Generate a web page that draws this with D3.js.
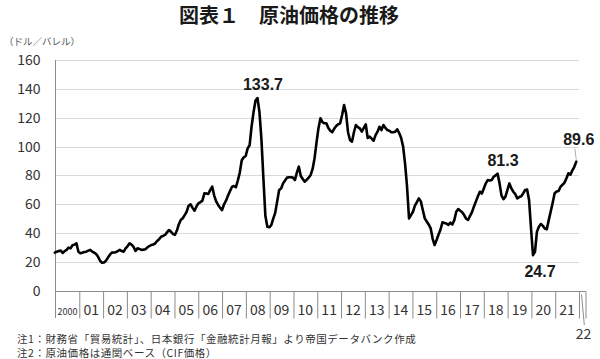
<!DOCTYPE html>
<html><head><meta charset="utf-8">
<script src="https://cdn.jsdelivr.net/npm/d3@7"></script>
<style>
html,body{margin:0;padding:0;background:#fff;}
svg{display:block;font-family:"Noto Sans CJK JP","Noto Sans",sans-serif;}
</style></head><body>
<svg id="c" width="600" height="359"></svg>
<script>
const title = "図表１　原油価格の推移";
const unitLabel = "（ドル／バレル）";
const yearLabels = ["2000","01","02","03","04","05","06","07","08","09","10","11","12","13","14","15","16","17","18","19","20","21"];
const extraYearLabel = "22";
const yTicks = [0,20,40,60,80,100,120,140,160];
// monthly crude oil price (USD/bbl), Jan 2000 - Feb 2022
const prices = [
 26.4,27.1,27.6,27.8,26.2,27.5,28.3,29.9,29.4,31.5,32.0,32.9,
 27.0,26.0,26.4,26.8,27.1,27.8,28.3,27.2,26.4,25.5,23.5,20.8,
 19.4,19.6,20.8,23.0,25.0,26.4,26.5,26.7,27.5,28.3,27.5,27.1,
 29.4,31.0,32.9,32.0,30.5,27.6,29.4,29.0,28.3,28.5,28.8,30.0,
 31.0,31.7,32.0,32.9,34.5,35.7,37.5,38.0,38.7,40.5,42.1,41.0,
 39.5,38.7,41.6,46.0,49.1,50.3,52.5,54.8,59.0,60.0,57.5,55.5,
 58.5,60.7,61.5,62.5,67.6,67.5,67.1,70.0,72.2,66.0,62.0,59.5,
 57.5,56.0,60.0,62.5,66.0,69.0,72.0,72.7,71.8,76.5,82.0,90.5,
 92.6,93.5,98.8,101.0,114.0,124.0,132.0,133.7,124.0,105.0,78.0,52.0,
 44.4,44.0,45.5,50.0,54.0,62.0,69.9,71.0,74.5,76.5,78.5,78.7,
 78.7,78.5,76.8,82.0,86.1,79.6,77.5,75.7,77.0,78.5,80.3,84.5,
 92.0,103.0,113.0,119.7,117.0,116.2,116.2,113.0,111.0,110.0,112.5,114.3,
 115.5,116.2,122.0,128.9,123.1,110.0,104.6,103.4,110.0,115.0,113.5,112.7,
 110.4,113.0,115.5,106.0,106.9,105.5,104.1,108.0,110.4,113.8,111.5,115.0,
 113.0,111.5,111.0,110.0,110.0,110.4,112.0,109.4,106.0,100.0,88.0,72.0,
 50.2,52.5,54.8,59.0,61.5,64.1,62.0,56.0,50.2,48.0,46.0,43.3,
 36.0,31.7,35.2,39.0,42.5,47.5,47.0,46.6,45.6,47.2,46.0,49.0,
 54.8,56.7,55.5,54.5,52.5,50.0,49.1,51.9,54.5,58.5,62.0,65.5,
 68.7,67.4,71.0,74.5,76.8,76.5,76.8,79.1,80.0,81.3,74.5,66.0,
 63.5,65.3,70.0,74.5,71.0,68.7,67.0,64.1,65.0,65.6,67.5,69.9,
 70.2,63.0,43.0,24.7,27.0,41.0,44.4,46.3,45.0,43.2,42.6,49.0,
 55.0,61.0,67.6,68.8,69.2,72.2,73.5,75.0,78.0,81.5,80.5,83.5,
 86.0,89.6
];
const annotationIndex = [103,225,243,265];
const annotationText = ["133.7","81.3","24.7","89.6"];
const notes = ["注1：財務省「貿易統計」、日本銀行「金融統計月報」より帝国データバンク作成","注2：原油価格は通関ベース（CIF価格）"];

const svg = d3.select("#c");
const x = d3.scaleLinear().domain([0, prices.length-1]).range([54.8, 576.3]);
const y = d3.scaleLinear().domain([0,160]).range([290.7, 60.2]);
const xYear = d3.scaleLinear().domain([2000,2022]).range([55.5, 579]);
const xLeft = 55.5, xGridEnd = 579, xAxisEnd = 586;

// title
svg.append("text").attr("x",289).attr("y",23).attr("text-anchor","middle")
  .attr("font-size",20).attr("font-weight","bold").attr("fill","#1a1a1a").text(title);
svg.append("text").attr("x",4).attr("y",45).attr("font-size",9.5).attr("fill","#555").text(unitLabel);

// gridlines
svg.append("g").selectAll("line").data(yTicks.filter(d=>d>0)).join("line")
  .attr("x1",xLeft).attr("x2",xGridEnd).attr("y1",d=>Math.round(y(d))+0.5).attr("y2",d=>Math.round(y(d))+0.5)
  .attr("stroke","#d9d9d9").attr("stroke-width",1);

// y axis
const yAxis = svg.append("g").attr("transform",`translate(${xLeft},0)`)
  .call(d3.axisLeft(y).tickValues(yTicks).tickSize(0).tickPadding(15));
yAxis.select(".domain").remove();
yAxis.selectAll("text").attr("font-size",14).attr("fill","#333").attr("font-family","'Noto Sans CJK JP',sans-serif");
svg.append("line").attr("x1",xLeft).attr("x2",xLeft).attr("y1",60).attr("y2",318)
  .attr("stroke","#8c8c8c").attr("stroke-width",1);

// x axis line and year separators
const y0 = Math.round(y(0))+0.5;
svg.append("line").attr("x1",xLeft).attr("x2",xAxisEnd).attr("y1",y0).attr("y2",y0)
  .attr("stroke","#8c8c8c").attr("stroke-width",1);
const xAxis = svg.append("g").attr("transform",`translate(0,${y0})`)
  .call(d3.axisBottom(xYear).tickValues(d3.range(2001,2023)).tickSize(27).tickFormat(""));
xAxis.select(".domain").remove();
xAxis.selectAll("line").attr("stroke","#8c8c8c");
svg.append("line").attr("x1",xAxisEnd).attr("x2",xAxisEnd).attr("y1",y0).attr("y2",y0+27)
  .attr("stroke","#8c8c8c");
svg.append("line").attr("x1",581.5).attr("x2",584.3).attr("y1",y0+3).attr("y2",325)
  .attr("stroke","#8c8c8c");

svg.append("g").selectAll("text").data(yearLabels).join("text")
  .attr("x",(d,i)=>xYear(2000+i+0.5)).attr("y",315).attr("text-anchor","middle")
  .attr("font-size",(d,i)=>i===0?9:14).attr("fill","#333").text(d=>d);
svg.append("text").attr("x",583.5).attr("y",339).attr("text-anchor","middle")
  .attr("font-size",14).attr("fill","#333").text(extraYearLabel);

// line
svg.append("path").datum(prices)
  .attr("d", d3.line().x((d,i)=>x(i)).y(d=>y(d)))
  .attr("fill","none").attr("stroke","#000").attr("stroke-width",2.6)
  .attr("stroke-linejoin","round").attr("stroke-linecap","round");

// annotations
const offsets = [[5.5,-7.6],[5.4,-7.6],[7,21.5],[2.5,-16.5]];
annotationIndex.forEach((idx,k)=>{
  const px = x(idx), py = y(prices[idx]);
  svg.append("text").attr("x",px+offsets[k][0]).attr("y",py+offsets[k][1])
    .attr("text-anchor","middle").attr("font-size",16).attr("font-weight","bold")
    .attr("font-family","'Liberation Sans',Arial,sans-serif").attr("fill","#1a1a1a")
    .text(annotationText[k]);
});
{
  const px = x(265), py = y(prices[265]);
  svg.append("line").attr("x1",px-1.5).attr("y1",py-13).attr("x2",px).attr("y2",py-2)
    .attr("stroke","#999").attr("stroke-width",0.8);
}

// notes
svg.append("g").selectAll("text").data(notes).join("text")
  .attr("x",17).attr("y",(d,i)=>342.5+i*14).attr("font-size",10.5).attr("letter-spacing",0.55)
  .attr("fill","#333").text(d=>d);
</script>
</body></html>
